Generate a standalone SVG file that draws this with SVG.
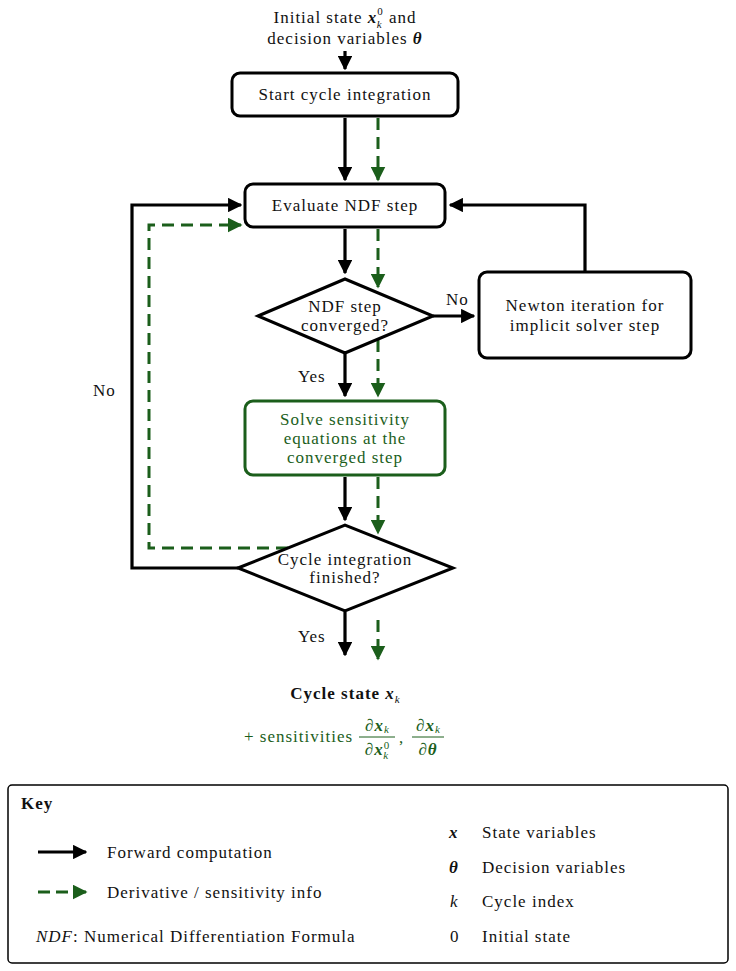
<svg xmlns="http://www.w3.org/2000/svg" width="736" height="971" viewBox="0 0 736 971" font-family="'Liberation Serif', 'Times New Roman', serif" font-size="17">
<style>
text{fill:#111;letter-spacing:1px}
.c{text-anchor:middle}
.g{fill:#1b5e1b}
.box{fill:#fff;stroke:#000;stroke-width:3}
.gbox{fill:#fff;stroke:#1b5e1b;stroke-width:3}
.blk{fill:none;stroke:#000;stroke-width:3.2}
.grn{fill:none;stroke:#1b5e1b;stroke-width:3;stroke-dasharray:12,7}
.m{font-weight:bold;font-style:italic}
.i{font-style:italic}
.s{font-size:11px;letter-spacing:0}
</style>
<defs>
<marker id="ab" viewBox="0 0 10 10" refX="9" refY="5" markerWidth="4.5" markerHeight="4.5" orient="auto" markerUnits="strokeWidth"><path d="M0,0 L10,5 L0,10 z" fill="#000"/></marker>
<marker id="ag" viewBox="0 0 10 10" refX="9" refY="5" markerWidth="5" markerHeight="5" orient="auto" markerUnits="strokeWidth"><path d="M0,0 L10,5 L0,10 z" fill="#1b5e1b"/></marker>
</defs>

<g id="input">
<text class="c" x="345" y="23">Initial state <tspan class="m">x</tspan><tspan class="s" dy="-8">0</tspan><tspan class="s i" dx="-6" dy="13">k</tspan><tspan dx="2" dy="-5"> and</tspan></text>
<text class="c" x="345" y="44">decision variables <tspan class="m">θ</tspan></text>
</g>

<g id="connectors">
<line class="blk" x1="345" y1="51" x2="345" y2="69" marker-end="url(#ab)"/>
<line class="blk" x1="345" y1="118" x2="345" y2="180" marker-end="url(#ab)"/>
<line class="grn" x1="378" y1="118" x2="378" y2="180" marker-end="url(#ag)"/>
<line class="blk" x1="345" y1="229" x2="345" y2="273" marker-end="url(#ab)"/>
<line class="grn" x1="378" y1="229" x2="378" y2="287" marker-end="url(#ag)"/>
<line class="blk" x1="433" y1="316" x2="474" y2="316" marker-end="url(#ab)"/>
<polyline class="blk" points="585,272 585,205 450,205" marker-end="url(#ab)"/>
<line class="blk" x1="345" y1="354" x2="345" y2="396" marker-end="url(#ab)"/>
<line class="grn" x1="378" y1="340" x2="378" y2="396" marker-end="url(#ag)"/>
<line class="blk" x1="345" y1="477" x2="345" y2="520" marker-end="url(#ab)"/>
<line class="grn" x1="378" y1="477" x2="378" y2="533" marker-end="url(#ag)"/>
<polyline class="blk" points="238,568 132,568 132,205 241,205" marker-end="url(#ab)"/>
<polyline class="grn" points="288,548 149,548 149,225 241,225" marker-end="url(#ag)"/>
<line class="blk" x1="345" y1="612" x2="345" y2="655" marker-end="url(#ab)"/>
<line class="grn" x1="378" y1="620" x2="378" y2="659" marker-end="url(#ag)"/>
<text x="446" y="305">No</text>
<text x="298" y="382">Yes</text>
<text x="93" y="396">No</text>
<text x="298" y="642">Yes</text>
</g>

<g id="start">
<rect class="box" x="232" y="73" width="226" height="43" rx="8"/>
<text class="c" x="345" y="100">Start cycle integration</text>
</g>

<g id="evaluate">
<rect class="box" x="245" y="184" width="200" height="43" rx="8"/>
<text class="c" x="345" y="211">Evaluate NDF step</text>
</g>

<g id="converged">
<polygon class="box" points="258,316 345,279 433,316 345,353"/>
<text class="c" x="345" y="312">NDF step</text>
<text class="c" x="345" y="331">converged?</text>
</g>

<g id="newton">
<rect class="box" x="479" y="272" width="212" height="86" rx="8"/>
<text class="c" x="585" y="311">Newton iteration for</text>
<text class="c" x="585" y="331">implicit solver step</text>
</g>

<g id="sensitivity">
<rect class="gbox" x="245" y="401" width="200" height="74" rx="8"/>
<text class="c g" x="345" y="425">Solve sensitivity</text>
<text class="c g" x="345" y="444">equations at the</text>
<text class="c g" x="345" y="463">converged step</text>
</g>

<g id="finished">
<polygon class="box" points="238,568 345,525 453,568 345,611"/>
<text class="c" x="345" y="565">Cycle integration</text>
<text class="c" x="345" y="583">finished?</text>
</g>

<g id="output">
<text class="c" x="345" y="699" font-weight="bold">Cycle state <tspan class="m">x</tspan><tspan class="s i" font-weight="normal" dy="4">k</tspan></text>
<text class="g" x="244" y="742">+ sensitivities</text>
<text class="g" x="377" y="731" text-anchor="middle">∂<tspan class="m">x</tspan><tspan class="s i" dy="2">k</tspan></text>
<line x1="359" y1="737" x2="395" y2="737" stroke="#1b5e1b" stroke-width="1"/>
<text class="g" x="377" y="755" text-anchor="middle">∂<tspan class="m">x</tspan><tspan class="s" dy="-6">0</tspan><tspan class="s i" dx="-6" dy="10">k</tspan></text>
<text class="g" x="399" y="743">,</text>
<text class="g" x="428" y="731" text-anchor="middle">∂<tspan class="m">x</tspan><tspan class="s i" dy="2">k</tspan></text>
<line x1="412" y1="737" x2="444" y2="737" stroke="#1b5e1b" stroke-width="1"/>
<text class="g" x="428" y="755" text-anchor="middle">∂<tspan class="m">θ</tspan></text>
</g>

<g id="key">
<rect x="8" y="785" width="720" height="178" rx="4" fill="#fff" stroke="#000" stroke-width="1.5"/>
<text x="21" y="809" font-weight="bold">Key</text>
<line class="blk" x1="38" y1="852" x2="86" y2="852" marker-end="url(#ab)"/>
<text x="107" y="858">Forward computation</text>
<line class="grn" x1="38" y1="892" x2="86" y2="892" style="stroke-dasharray:12,6" marker-end="url(#ag)"/>
<text x="107" y="898">Derivative / sensitivity info</text>
<text x="36" y="942"><tspan class="i">NDF</tspan>: Numerical Differentiation Formula</text>
<text x="449" y="838" class="m">x</text>
<text x="482" y="838">State variables</text>
<text x="449" y="873" class="m">θ</text>
<text x="482" y="873">Decision variables</text>
<text x="450" y="907" class="i">k</text>
<text x="482" y="907">Cycle index</text>
<text x="450" y="942">0</text>
<text x="482" y="942">Initial state</text>
</g>
</svg>
